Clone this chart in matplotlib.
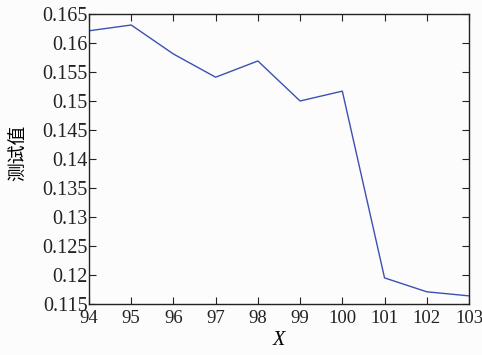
import numpy as np
import matplotlib
matplotlib.use('Agg')
import matplotlib.pyplot as plt

x_vals = [94, 95, 96, 97, 98, 99, 100, 101, 102, 103]
y_vals = [0.1621, 0.1631, 0.1581, 0.1541, 0.1569, 0.1500, 0.1517, 0.1195, 0.1171, 0.1164]
y_ticks = [0.115, 0.12, 0.125, 0.13, 0.135, 0.14, 0.145, 0.15, 0.155, 0.16, 0.165]
y_labels = ['0.115', '0.12', '0.125', '0.13', '0.135', '0.14', '0.145', '0.15', '0.155', '0.16', '0.165']

plt.rcParams['font.family'] = ['Liberation Serif', 'Noto Sans CJK SC']

fig = plt.figure(figsize=(4.82, 3.55), dpi=100, facecolor='#fcfcfc')
ax = fig.add_axes([0.1846, 0.1437, 0.7884, 0.8169])
ax.set_facecolor('#fcfcfc')

ax.plot(x_vals, y_vals, color='#3c50b4', lw=1.0)

ax.set_xlim(94, 103)
ax.set_ylim(0.115, 0.165)
ax.set_xticks(x_vals)
ax.set_yticks(y_ticks)
ax.set_yticklabels(y_labels)

ax.tick_params(direction='in', length=5, width=0.8, top=True, right=True,
               labelsize=14.5, colors='#222222')
ax.tick_params(axis='y', pad=1)
ax.tick_params(axis='x', pad=4, labelsize=13.5)
for s in ax.spines.values():
    s.set_linewidth(1.0)
    s.set_color('#222222')

ax.set_xlabel('X', fontstyle='italic', fontsize=14.5, labelpad=3)
ax.set_ylabel('测试值', family=['Noto Sans CJK SC'], fontsize=13.5)
ax.yaxis.set_label_coords(-0.16, 0.52)

fig.savefig('out.png', dpi=100, facecolor=fig.get_facecolor())
